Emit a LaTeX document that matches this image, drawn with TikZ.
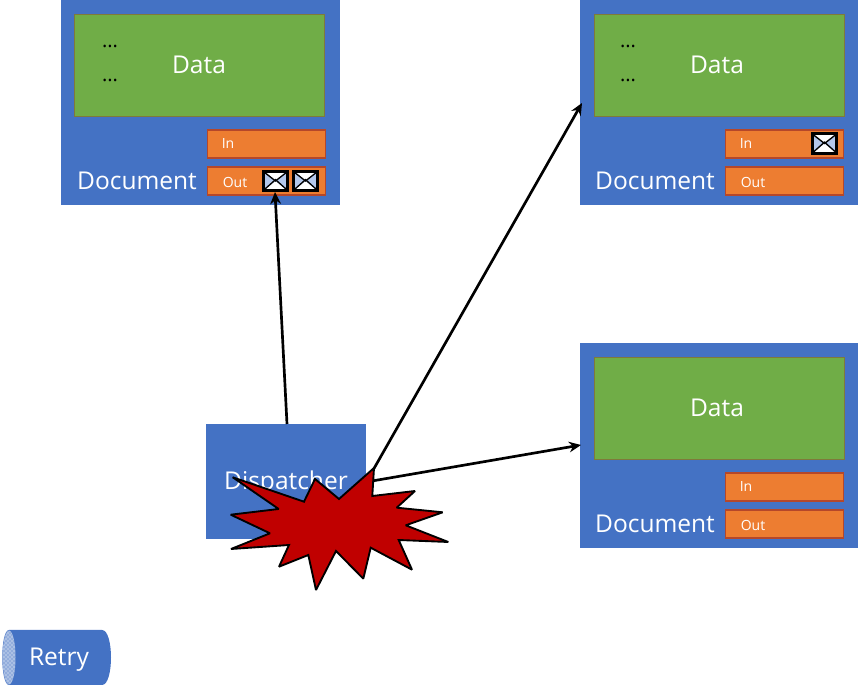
\documentclass[tikz,border=0pt]{standalone}
\usepackage{fontspec}
\setmainfont{Open Sans}
\usetikzlibrary{arrows.meta,positioning,patterns}
\definecolor{docblue}{HTML}{4472C4}
\definecolor{datagreen}{HTML}{70AD47}
\definecolor{dataedge}{HTML}{7F7A3A}
\definecolor{boxorange}{HTML}{ED7D31}
\definecolor{boxedge}{HTML}{B5472A}
\definecolor{burst}{HTML}{C00000}
\definecolor{envshade}{HTML}{B4C8EC}
\tikzset{
  x=0.75pt,y=-0.75pt,
  bluebox/.style={fill=docblue,draw=none,inner sep=0pt,anchor=north west},
  databox/.style={fill=datagreen,draw=dataedge,line width=0.8pt,inner sep=0pt,anchor=north west,
    minimum width=187.5pt,minimum height=76.5pt},
  slotbox/.style={fill=boxorange,draw=boxedge,line width=0.8pt,inner sep=0pt,anchor=north west,
    minimum width=88.5pt,minimum height=21pt},
  slottext/.style={text=white,font=\fontsize{10.5}{12}\selectfont,inner sep=0pt,anchor=center},
  whitetext/.style={text=white,font=\fontsize{18.4}{21}\selectfont,inner sep=0pt,anchor=center},
  dots/.style={text=black,font=\fontsize{15}{17}\selectfont,inner sep=0pt,anchor=center},
  conn/.style={line width=2pt,draw=black,-{Stealth[length=9pt,width=8pt]}},
  envbox/.style={fill=white,draw=black,line width=2.2pt,inner sep=0pt,minimum width=18.5pt,minimum height=14.5pt,
    path picture={
      \fill[envshade] (path picture bounding box.north west) -- (path picture bounding box.center)
        -- (path picture bounding box.south west) -- cycle;
      \fill[envshade] (path picture bounding box.north east) -- (path picture bounding box.center)
        -- (path picture bounding box.south east) -- cycle;
      \draw[black,line width=1pt] (path picture bounding box.north west) -- (path picture bounding box.center)
        -- (path picture bounding box.north east);
      \draw[black,line width=1pt] (path picture bounding box.south west) -- ([yshift=1pt]path picture bounding box.center)
        -- (path picture bounding box.south east);
    }},
}
\begin{document}
\begin{tikzpicture}
\useasboundingbox (0,0) rectangle (858,691);
\clip (0,0) rectangle (858,691);

% Document 1
\node[bluebox,minimum width=209.25pt,minimum height=153.75pt] (doca) at (61,0) {};
\node[databox] (dataa) at (74,14) {};
\node[whitetext] (dataatext) at (199,65) {Data};
\node[slotbox] (ina) at (206.5,129.5) {};
\node[slotbox] (outa) at (206.5,166.5) {};
\node[slottext] (inatext) at (228,144) {In};
\node[slottext] (outatext) at (235,182) {Out};
\node[whitetext] (docatext) at (137,181) {Document};
\node[dots] (dotsa) at (110,46) {...};
\node[dots] (dotsb) at (110,80) {...};
\node[envbox] (enva) at (275.5,181) {};
\node[envbox] (envb) at (305.5,181) {};

% Document 2
\node[bluebox,minimum width=209.25pt,minimum height=153.75pt] (docb) at (579.5,0) {};
\node[databox] (datab) at (594,14) {};
\node[whitetext] (databtext) at (717,65) {Data};
\node[slotbox] (inb) at (724.5,129.5) {};
\node[slotbox] (outb) at (724.5,166.5) {};
\node[slottext] (inbtext) at (746,144) {In};
\node[slottext] (outbtext) at (753,182) {Out};
\node[whitetext] (docbtext) at (655,181) {Document};
\node[dots] (dotsc) at (628,46) {...};
\node[dots] (dotsd) at (628,80) {...};
\node[envbox] (envc) at (824.5,143.5) {};

% Document 3
\node[bluebox,minimum width=209.25pt,minimum height=153.75pt] (docc) at (579.5,343) {};
\node[databox] (datac) at (594,357) {};
\node[whitetext] (datactext) at (717,408) {Data};
\node[slotbox] (inc) at (724.5,472.5) {};
\node[slotbox] (outc) at (724.5,509.5) {};
\node[slottext] (inctext) at (746,487) {In};
\node[slottext] (outctext) at (753,525) {Out};
\node[whitetext] (docctext) at (655,524) {Document};

% Dispatcher
\node[bluebox,minimum width=120pt,minimum height=86.25pt] (disp) at (206,424) {};
\node[whitetext] (disptext) at (286,483.5) {Dispatcher};

% Connectors
\coordinate (burstA) at (287,424);
\coordinate (burstB) at (372,472);
\coordinate (burstC) at (372,481);
\coordinate (targetA) at (275,192);
\coordinate (targetB) at (582,103);
\coordinate (targetC) at (581,445);
\draw[conn] (burstA) -- (targetA);
\draw[conn] (burstB) -- (targetB);
\draw[conn] (burstC) -- (targetC);

% Burst
\draw[fill=burst,draw=black,line width=1.4pt,line join=miter,miter limit=2]
 (374,468) -- (372.3,496) -- (415,491) -- (396.7,507.7) -- (442.7,512.3) -- (405.7,525.3)
 -- (448.3,542) -- (398.7,540) -- (412,569.7) -- (370.7,547.7) -- (363.3,578.7)
 -- (336,551) -- (316,590) -- (308.3,555) -- (279,566.7) -- (289,545) -- (231,549)
 -- (270,533.3) -- (230.7,514.7) -- (278.7,509) -- (232.7,477.3) -- (304,501.7)
 -- (315,479) -- (339,499) -- cycle;

% Retry cylinder
\fill[docblue] (9,630) -- (102,630) .. controls (114,630) and (114,685) .. (102,685)
  -- (9,685) .. controls (0,685) and (0,630) .. (9,630) -- cycle;
\fill[docblue!45!white] (9,657.5) ellipse[x radius=6.5,y radius=27];
\fill[pattern=crosshatch dots,pattern color=docblue] (9,657.5) ellipse[x radius=6.5,y radius=27];
\node[whitetext] (retrytext) at (59,660) {Retry};
\end{tikzpicture}
\end{document}
